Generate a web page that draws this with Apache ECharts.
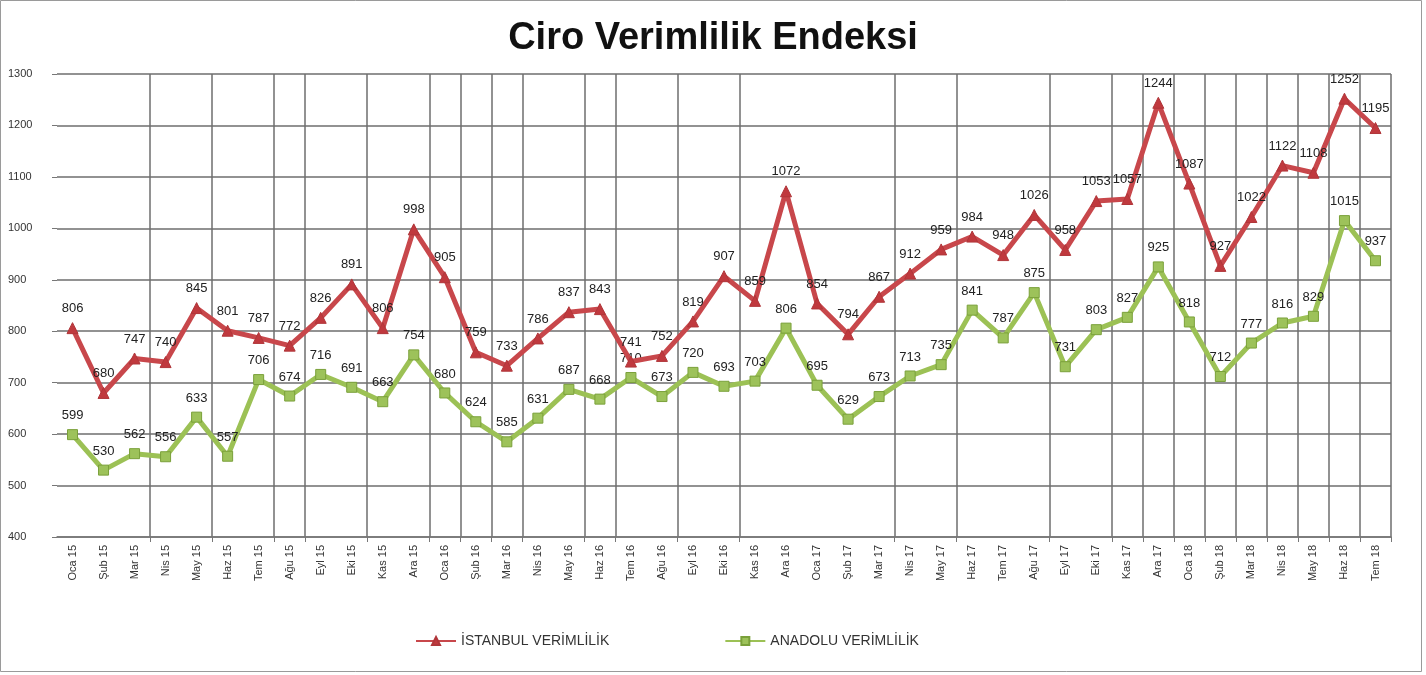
<!DOCTYPE html>
<html>
<head>
<meta charset="utf-8">
<script src="https://cdn.jsdelivr.net/npm/echarts@6/dist/echarts.min.js"></script>
<style>
html,body{margin:0;padding:0;background:#fff;}
#c{width:1426px;height:675px;}
</style>
</head>
<body>
<div id="c"></div>
<script>
var categories = [
  'Oca 15','Şub 15','Mar 15','Nis 15','May 15','Haz 15','Tem 15','Ağu 15','Eyl 15','Eki 15','Kas 15','Ara 15',
  'Oca 16','Şub 16','Mar 16','Nis 16','May 16','Haz 16','Tem 16','Ağu 16','Eyl 16','Eki 16','Kas 16','Ara 16',
  'Oca 17','Şub 17','Mar 17','Nis 17','May 17','Haz 17','Tem 17','Ağu 17','Eyl 17','Eki 17','Kas 17','Ara 17',
  'Oca 18','Şub 18','Mar 18','Nis 18','May 18','Haz 18','Tem 18'
];
var istanbul = [
  806, 680, 747, 740, 845, 801, 787, 772, 826, 891, 806, 998,
  905, 759, 733, 786, 837, 843, 741, 752, 819, 907, 859, 1072,
  854, 794, 867, 912, 959, 984, 948, 1026, 958, 1053, 1057, 1244,
  1087, 927, 1022, 1122, 1108, 1252, 1195
];
var anadolu = [
  599, 530, 562, 556, 633, 557, 706, 674, 716, 691, 663, 754,
  680, 624, 585, 631, 687, 668, 710, 673, 720, 693, 703, 806,
  695, 629, 673, 713, 735, 841, 787, 875, 731, 803, 827, 925,
  818, 712, 777, 816, 829, 1015, 937
];
var seriesNames = ['İSTANBUL VERİMLİLİK', 'ANADOLU VERİMLİLİK'];
var yTicks = {min: 400, max: 1300, step: 100};
// category boundaries where the reference shows vertical grid lines
var vLines = [3,5,7,8,10,12,13,14,15,17,18,20,22,27,29,32,34,35,36,37,38,39,40,41,42];

var chart = echarts.init(document.getElementById('c'));
var gridFn = function (idx) { return vLines.indexOf(idx) >= 0; };
chart.setOption({
  animation: false,
  backgroundColor: '#fff',
  title: {
    text: 'Ciro Verimlilik Endeksi',
    left: 'center', top: 15,
    textStyle: {fontFamily: 'Liberation Sans', fontWeight: 'bold', fontSize: 38, color: '#111'}
  },
  legend: {
    left: 410, top: 629, itemGap: 115, itemWidth: 40, itemHeight: 10,
    textStyle: {fontFamily: 'Liberation Sans', fontSize: 14, color: '#333'},
    data: seriesNames
  },
  graphic: [{
    type: 'rect', shape: {x: 0.5, y: 0.5, width: 1421, height: 671},
    style: {fill: 'none', stroke: '#9a9a9a', lineWidth: 1}, silent: true
  }],
  grid: {left: 57, right: 35, top: 74, bottom: 138},
  xAxis: {
    type: 'category', data: categories, boundaryGap: true,
    axisLine: {lineStyle: {color: '#777', width: 1.5}},
    axisTick: {show: true, interval: gridFn, length: 5, lineStyle: {color: '#777'}},
    splitLine: {show: true, interval: gridFn, lineStyle: {color: '#6e6e6e', width: 1.5}},
    axisLabel: {rotate: 90, interval: 0, margin: 8, fontFamily: 'Liberation Sans', fontSize: 11, color: '#333'}
  },
  yAxis: {
    type: 'value', min: yTicks.min, max: yTicks.max, interval: yTicks.step,
    axisLine: {show: false},
    axisTick: {show: true, length: 5, lineStyle: {color: '#777'}},
    splitLine: {lineStyle: {color: '#6e6e6e', width: 1.5}},
    axisLabel: {align: 'left', margin: 49, fontFamily: 'Liberation Sans', fontSize: 11, color: '#333',
      formatter: function (v) { return String(v); }}
  },
  series: [{
    name: seriesNames[0], type: 'line', data: istanbul,
    symbol: 'triangle', symbolSize: 11,
    lineStyle: {color: '#c8474b', width: 5},
    itemStyle: {color: '#c0393e', borderColor: '#b0363a', borderWidth: 1},
    label: {show: true, position: 'top', distance: 7, fontFamily: 'Liberation Sans', fontSize: 13, color: '#222'},
    z: 3
  }, {
    name: seriesNames[1], type: 'line', data: anadolu,
    symbol: 'rect', symbolSize: 10,
    lineStyle: {color: '#9cc155', width: 5},
    itemStyle: {color: '#9dc25a', borderColor: '#7aa03a', borderWidth: 1},
    label: {show: true, position: 'top', distance: 7, fontFamily: 'Liberation Sans', fontSize: 13, color: '#222'},
    z: 2
  }]
});
</script>
</body>
</html>
